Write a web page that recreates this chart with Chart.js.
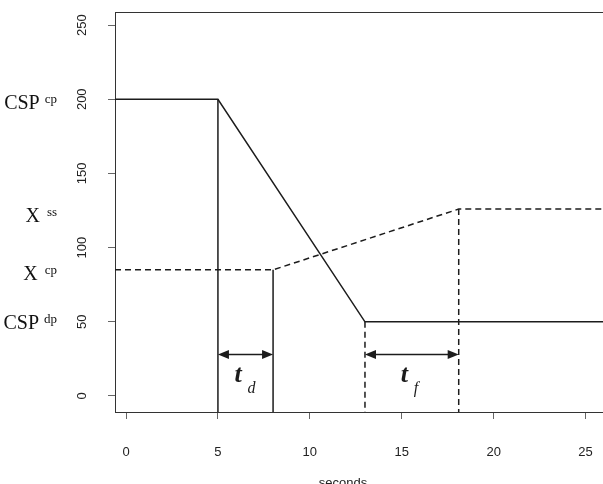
<!DOCTYPE html>
<html>
<head>
<meta charset="utf-8">
<script src="https://cdn.jsdelivr.net/npm/chart.js@4.4.1/dist/chart.umd.min.js"></script>
<style>
  html, body { margin: 0; padding: 0; background: #fff; }
  #chart { display: block; }
</style>
</head>
<body>
<canvas id="chart" width="603" height="484"></canvas>
<script>
const xTicks = [0, 5, 10, 15, 20, 25];
const yTicks = [0, 50, 100, 150, 200, 250];

// set point (solid) and controlled variable (dashed)
const cspTime = [-0.6, 5, 13, 25.95];
const cspValue = [200, 200, 50, 50];
const xTime = [-0.6, 8, 18.1, 25.95];
const xValue = [85, 85, 126, 126];

// vertical drop lines down to the axis
const solidDropTime = [5, 8];
const solidDropTop = [200, 85];
const dashedDropTime = [13, 18.1];
const dashedDropTop = [50, 126];

// labels left of the axis
const levelNames = ["CSP", "X", "X", "CSP"];
const levelSups = ["cp", "ss", "cp", "dp"];
const levelValues = [198, 122, 83, 50];

// the two time spans with arrows
const spanSubs = ["d", "f"];
const spanStart = [5, 13];
const spanEnd = [8, 18.1];
const spanArrowLevel = 28;
const spanTextLevel = 9.5;

const X_MIN = -0.6, X_MAX = 25.95, Y_MIN = -10.8, Y_MAX = 258.8;
const INK = "#1c1c1c";

function pairs(xs, ys) {
  return xs.map((x, i) => ({ x: x, y: ys[i] }));
}

function drop(t, top) {
  return [{ x: t, y: top }, { x: t, y: Y_MIN }];
}

const datasets = [
  { data: pairs(cspTime, cspValue), borderDash: [] },
  { data: pairs(xTime, xValue), borderDash: [6, 4] },
];
solidDropTime.forEach((t, i) => datasets.push({ data: drop(t, solidDropTop[i]), borderDash: [] }));
dashedDropTime.forEach((t, i) => datasets.push({ data: drop(t, dashedDropTop[i]), borderDash: [6, 4] }));
datasets.forEach((d) => {
  d.borderColor = INK;
  d.borderWidth = 1.5;
  d.pointRadius = 0;
  d.fill = false;
  d.tension = 0;
});

const annotate = {
  id: "annotate",
  afterDraw(chart) {
    const ctx = chart.ctx;
    const xs = chart.scales.x;
    const ys = chart.scales.y;
    const area = chart.chartArea;
    ctx.save();

    // top of the frame
    ctx.strokeStyle = "#333";
    ctx.lineWidth = 1;
    ctx.beginPath();
    ctx.moveTo(area.left, area.top + 0.5);
    ctx.lineTo(area.right, area.top + 0.5);
    ctx.stroke();

    // rotated y tick labels
    ctx.fillStyle = "#222";
    ctx.font = "13px 'Liberation Sans'";
    ctx.textAlign = "center";
    ctx.textBaseline = "middle";
    yTicks.forEach((v) => {
      ctx.save();
      ctx.translate(82, ys.getPixelForValue(v));
      ctx.rotate(-Math.PI / 2);
      ctx.fillText(String(v), 0, 0);
      ctx.restore();
    });

    // level labels with superscripts
    ctx.textAlign = "left";
    ctx.textBaseline = "alphabetic";
    ctx.fillStyle = "#111";
    levelNames.forEach((name, i) => {
      const base = ys.getPixelForValue(levelValues[i]) + 7;
      ctx.font = "20px 'Liberation Serif'";
      const wb = ctx.measureText(name).width;
      ctx.font = "13px 'Liberation Serif'";
      const ws = ctx.measureText(levelSups[i]).width;
      const gap = name.length === 1 ? 7 : 5;
      const start = 57 - ws - gap - wb;
      ctx.font = "20px 'Liberation Serif'";
      ctx.fillText(name, start, base);
      ctx.font = "13px 'Liberation Serif'";
      ctx.fillText(levelSups[i], start + wb + gap, base - 6);
    });

    // double arrows and t labels
    ctx.strokeStyle = INK;
    ctx.fillStyle = INK;
    ctx.lineWidth = 1.5;
    spanSubs.forEach((sub, i) => {
      const x0 = xs.getPixelForValue(spanStart[i]);
      const x1 = xs.getPixelForValue(spanEnd[i]);
      const y = ys.getPixelForValue(spanArrowLevel);
      ctx.beginPath();
      ctx.moveTo(x0 + 8, y);
      ctx.lineTo(x1 - 8, y);
      ctx.stroke();
      ctx.beginPath();
      ctx.moveTo(x0, y);
      ctx.lineTo(x0 + 11, y - 4.5);
      ctx.lineTo(x0 + 11, y + 4.5);
      ctx.closePath();
      ctx.fill();
      ctx.beginPath();
      ctx.moveTo(x1, y);
      ctx.lineTo(x1 - 11, y - 4.5);
      ctx.lineTo(x1 - 11, y + 4.5);
      ctx.closePath();
      ctx.fill();

      const mid = (x0 + x1) / 2;
      const ty = ys.getPixelForValue(spanTextLevel);
      ctx.font = "italic bold 26px 'Liberation Serif'";
      ctx.fillText("t", mid - 11, ty);
      ctx.font = "italic 16px 'Liberation Serif'";
      ctx.fillText(sub, mid + 2, ty + 11);
    });

    // axis title, mostly cut off at the bottom
    ctx.fillStyle = "#222";
    ctx.font = "13px 'Liberation Sans'";
    ctx.textAlign = "center";
    ctx.fillText("seconds", 343, 487);

    ctx.restore();
  },
};

const tickGrid = { drawOnChartArea: false, drawTicks: true, tickLength: 7, color: "#666", lineWidth: 1 };

new Chart(document.getElementById("chart"), {
  type: "line",
  data: { datasets: datasets },
  options: {
    responsive: false,
    animation: false,
    devicePixelRatio: 1,
    layout: { padding: { top: 12, left: 0, right: 0, bottom: 0 } },
    plugins: { legend: { display: false }, tooltip: { enabled: false } },
    scales: {
      x: {
        type: "linear",
        min: X_MIN,
        max: X_MAX,
        afterBuildTicks: (s) => { s.ticks = xTicks.map((v) => ({ value: v })); },
        afterFit: (s) => {
          s.height = 72;
          s.paddingLeft = 0;
          s.paddingRight = 0;
        },
        grid: tickGrid,
        border: { display: true, color: "#333", width: 1 },
        ticks: { font: { family: "Liberation Sans", size: 13 }, color: "#222", padding: 26, maxRotation: 0, includeBounds: false },
      },
      y: {
        type: "linear",
        min: Y_MIN,
        max: Y_MAX,
        afterBuildTicks: (s) => { s.ticks = yTicks.map((v) => ({ value: v })); },
        afterFit: (s) => { s.width = 115; },
        grid: tickGrid,
        border: { display: true, color: "#333", width: 1 },
        ticks: { display: false },
      },
    },
  },
  plugins: [annotate],
});
</script>
</body>
</html>
